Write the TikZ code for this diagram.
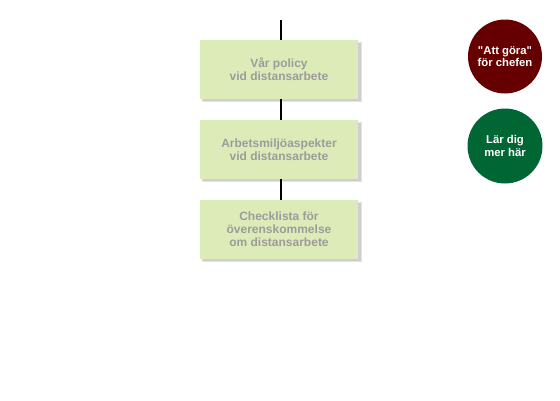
\documentclass[tikz,border=0pt]{standalone}
\usepackage{fontspec}
\setmainfont{Liberation Sans}[Ligatures=TeXOff]
\definecolor{boxfill}{HTML}{DDEBB8}
\definecolor{boxtext}{HTML}{9C9C9C}
\definecolor{shadowc}{HTML}{CFCFCF}
\definecolor{maroon}{HTML}{660000}
\definecolor{forest}{HTML}{006633}
\begin{document}
\begin{tikzpicture}[x=1pt,y=-1pt,
  stepbox/.style={fill=boxfill, minimum width=158pt, minimum height=59pt, inner sep=0pt,
    align=center, text=boxtext, font=\bfseries\fontsize{12}{12.8}\selectfont},
  roundbtn/.style={circle, minimum size=74pt, inner sep=0pt, align=center, text=white,
    font=\bfseries\fontsize{11.3}{12.3}\selectfont},
  link/.style={line width=2pt, black}]
\useasboundingbox (0,0) rectangle (560,400);
\fill[white] (0,0) rectangle (560,400);
% shadows
\foreach \y in {40,120,200}{
  \fill[shadowc!60] (201.5,\y+1.5) rectangle (362,\y+62);
  \fill[shadowc] (202.5,\y+2.5) rectangle (361,\y+61);
}
\node[stepbox] (b1) at (279,69.5) {Vår policy\\vid distansarbete};
\node[stepbox] (b2) at (279,149.5) {Arbetsmiljöaspekter\\vid distansarbete};
\node[stepbox] (b3) at (279,229.5) {Checklista för\\överenskommelse\\om distansarbete};
\coordinate (top) at (280.5,20);
\draw[link] (top) -- (top|-b1.north);
\draw[link] (top|-b1.south) -- (top|-b2.north);
\draw[link] (top|-b2.south) -- (top|-b3.north);
\node[roundbtn, fill=maroon] (c1) at (505,56.5) {"Att göra"\\för chefen};
\node[roundbtn, fill=forest, minimum size=75pt] (c2) at (505,146) {Lär dig\\mer här};
\end{tikzpicture}
\end{document}
